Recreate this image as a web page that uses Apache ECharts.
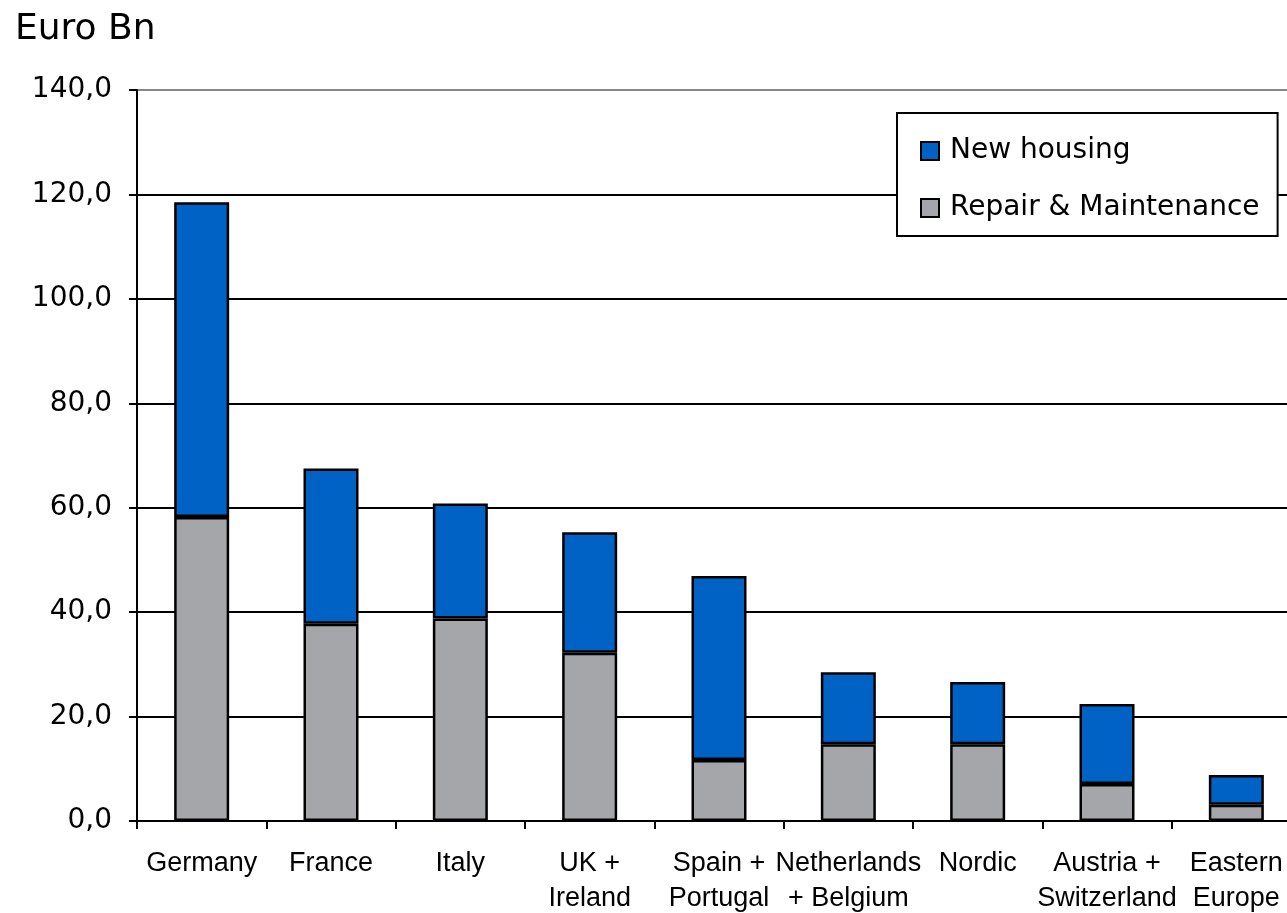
<!DOCTYPE html>
<html>
<head>
<meta charset="utf-8">
<script src="https://cdn.jsdelivr.net/npm/echarts@6/dist/echarts.min.js"></script>
<style>
html,body{margin:0;padding:0;background:#fff;}
#chart{width:1287px;height:913px;}
</style>
</head>
<body>
<div id="chart"></div>
<script>
const categories = ['Germany', 'France', 'Italy', 'UK +\nIreland', 'Spain +\nPortugal', 'Netherlands\n+ Belgium', 'Nordic', 'Austria +\nSwitzerland', 'Eastern\nEurope'];
const repairMaintenance = [58.2, 37.8, 38.8, 32.2, 11.7, 14.7, 14.7, 7.1, 3.1];
const newHousing = [60.3, 29.7, 22.0, 23.1, 35.2, 13.8, 11.9, 15.3, 5.7];
const seriesNames = ['New housing', 'Repair & Maintenance'];
const yTitle = 'Euro Bn';

const chart = echarts.init(document.getElementById('chart'));
const font = 'DejaVu Sans';
chart.setOption({
  animation: false,
  backgroundColor: '#fff',
  title: {
    text: yTitle, left: 10, top: 7,
    textStyle: {fontFamily: font, fontSize: 36, fontWeight: 'normal', color: '#000'}
  },
  legend: {
    data: seriesNames,
    orient: 'vertical',
    left: 897, top: 113,
    backgroundColor: '#fff',
    borderColor: '#000', borderWidth: 2,
    padding: [24, 18, 14, 23],
    itemWidth: 18, itemHeight: 18, itemGap: 29,
    icon: 'rect',
    textStyle: {fontFamily: font, fontSize: 28, color: '#000', lineHeight: 28, padding: [0, 0, 0, 6]}
  },
  grid: {left: 137, top: 90, right: -14, bottom: 92, containLabel: false, outerBoundsMode: 'none'},
  xAxis: {
    type: 'category', data: categories,
    axisLine: {lineStyle: {color: '#000', width: 2}},
    axisTick: {show: true, length: 8, lineStyle: {color: '#000', width: 2}},
    axisLabel: {interval: 0, margin: 25, fontFamily: 'Liberation Sans', fontSize: 27, lineHeight: 35, color: '#000', hideOverlap: false}
  },
  yAxis: {
    type: 'value', min: 0, max: 140, interval: 20,
    axisLine: {show: true, lineStyle: {color: '#000', width: 2}},
    axisTick: {show: true, length: 8, lineStyle: {color: '#000', width: 2}},
    axisLabel: {margin: 25, fontFamily: font, fontSize: 28, color: '#000',
      formatter: v => v.toFixed(1).replace('.', ',')},
    splitLine: {show: true, lineStyle: {color: ['#000','#000','#000','#000','#000','#000','#000','#888'], width: 2}}
  },
  series: [
    {
      name: 'Repair & Maintenance', type: 'bar', stack: 'total', data: repairMaintenance,
      barWidth: 55,
      itemStyle: {color: '#A5A6AA', borderColor: '#000', borderWidth: 2.5}
    },
    {
      name: 'New housing', type: 'bar', stack: 'total', data: newHousing,
      barWidth: 55,
      itemStyle: {color: '#0062C4', borderColor: '#000', borderWidth: 2.5}
    }
  ]
});
</script>
</body>
</html>
